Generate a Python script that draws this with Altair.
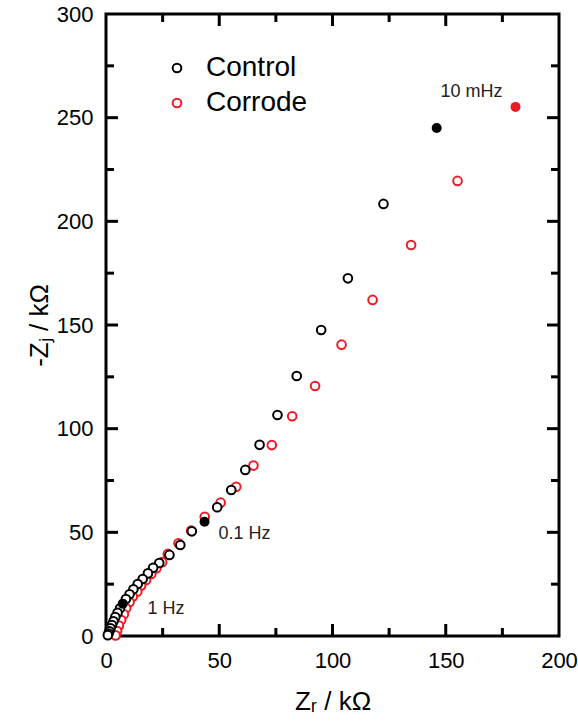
import altair as alt
import pandas as pd

# ---- data ----
ctrl_x = [122.5, 106.8, 95.0, 84.2, 75.7, 67.8, 61.5, 55.3, 49.1, 37.9, 32.8, 28.0,
          23.5, 20.8, 18.5, 16.2, 14.0, 12.1, 10.4, 8.8, 6.2, 5.1, 4.1, 3.3, 2.6, 2.0, 1.5, 1.1, 0.8]
ctrl_y = [208.4, 172.5, 147.6, 125.4, 106.6, 92.2, 80.1, 70.4, 62.1, 50.5, 43.9, 39.1,
          35.2, 32.9, 30.2, 27.5, 25.1, 22.5, 20.1, 17.8, 13.4, 11.2, 9.1, 7.1, 5.3, 3.7, 2.3, 1.2, 0.4]

corr_x = [155.2, 134.7, 117.7, 104.0, 92.3, 82.2, 73.2, 65.1, 57.5, 50.6, 43.6, 37.6, 32.0, 27.3,
          24.8, 22.3, 20.0, 17.7, 15.5, 13.8, 11.8, 10.4, 8.9, 7.9, 6.7, 5.7, 4.9, 4.2]
corr_y = [219.5, 188.6, 162.1, 140.5, 120.6, 106.0, 92.1, 82.2, 72.0, 64.3, 57.5, 50.8, 44.7, 39.6,
          35.6, 32.7, 29.9, 27.0, 24.3, 21.4, 19.0, 16.3, 13.4, 10.5, 7.7, 5.0, 2.4, 0.3]

# frequency markers (filled): 10 mHz, 0.1 Hz, 1 Hz
ctrl_mark_x = [146.0, 43.5, 7.4]
ctrl_mark_y = [245.0, 55.1, 15.6]
corr_mark_x = [180.8]
corr_mark_y = [255.2]

ann_text = ["10 mHz", "0.1 Hz", "1 Hz"]
ann_x = [147.7, 49.7, 18.3]
ann_y = [262.4, 49.2, 13.0]

series_names = ["Control", "Corrode"]
x_labels = [0, 50, 100, 150, 200]
y_labels = [0, 50, 100, 150, 200, 250, 300]
x_major = [50, 100, 150]
x_minor = [25, 75, 125, 175]
y_major = [50, 100, 150, 200, 250]
y_minor = [25, 75, 125, 175, 225, 275]

RED = "#ed1c24"
FONT = "Liberation Sans"
W, H = 453, 622
MAJ, MIN = 12, 8

open_df = pd.DataFrame({
    "x": corr_x + ctrl_x,
    "y": corr_y + ctrl_y,
    "series": ["Corrode"] * len(corr_x) + ["Control"] * len(ctrl_x),
})
ctrl_mark_df = pd.DataFrame({"x": ctrl_mark_x, "y": ctrl_mark_y})
corr_mark_df = pd.DataFrame({"x": corr_mark_x, "y": corr_mark_y})
ann_df = pd.DataFrame({"x": ann_x, "y": ann_y, "t": ann_text})

xs = alt.Scale(domain=[0, 200], nice=False, zero=False)
ys = alt.Scale(domain=[0, 300], nice=False, zero=False)
cscale = alt.Scale(domain=series_names, range=["black", RED])

x_axis = alt.Axis(values=x_labels, title="Zᵣ / kΩ", ticks=False, tickSize=0, domain=False,
                  grid=False, labelFontSize=22, labelPadding=14, labelFlush=False,
                  labelFont=FONT, labelColor="black", titleFont=FONT, titleFontSize=26,
                  titleFontWeight="normal", titleColor="black", titlePadding=17)
y_axis = alt.Axis(values=y_labels, title="-Zⱼ / kΩ", ticks=False, tickSize=0, domain=False,
                  grid=False, labelFontSize=22, labelPadding=13, labelFlush=False,
                  labelFont=FONT, labelColor="black", titleFont=FONT, titleFontSize=26,
                  titleFontWeight="normal", titleColor="black", titlePadding=4)

legend = alt.Legend(title=None, orient="none", legendX=57, legendY=40, labelFontSize=28,
                    labelFont=FONT, labelColor="black", symbolType="circle", symbolSize=75,
                    symbolStrokeWidth=2, symbolFillColor="white", labelOffset=15,
                    rowPadding=7, padding=0)

open_pts = alt.Chart(open_df).mark_point(
    shape="circle", size=75, strokeWidth=2, fill="white", fillOpacity=1, opacity=1
).encode(
    x=alt.X("x:Q", scale=xs, axis=x_axis),
    y=alt.Y("y:Q", scale=ys, axis=y_axis),
    stroke=alt.Stroke("series:N", scale=cscale, legend=legend),
)

ctrl_filled = alt.Chart(ctrl_mark_df).mark_circle(size=100, opacity=1, color="black").encode(
    x=alt.X("x:Q", scale=xs, axis=x_axis),
    y=alt.Y("y:Q", scale=ys, axis=y_axis),
)
corr_filled = alt.Chart(corr_mark_df).mark_circle(size=100, opacity=1, color=RED).encode(
    x=alt.X("x:Q", scale=xs, axis=x_axis),
    y=alt.Y("y:Q", scale=ys, axis=y_axis),
)

ann = alt.Chart(ann_df).mark_text(align="left", baseline="middle", fontSize=18, font=FONT,
                                  color="#222222").encode(
    x=alt.X("x:Q", scale=xs, axis=x_axis),
    y=alt.Y("y:Q", scale=ys, axis=y_axis),
    text="t:N",
)


def xticks(vals, length, top):
    d = pd.DataFrame({"x": vals})
    y0, y1 = (0, length) if top else (H, H - length)
    return alt.Chart(d).mark_rule(color="black", strokeWidth=3).encode(
        x=alt.X("x:Q", scale=xs, axis=x_axis), y=alt.value(y0), y2=alt.value(y1))


def yticks(vals, length, right):
    d = pd.DataFrame({"y": vals})
    x0, x1 = (W, W - length) if right else (0, length)
    return alt.Chart(d).mark_rule(color="black", strokeWidth=3).encode(
        y=alt.Y("y:Q", scale=ys, axis=y_axis), x=alt.value(x0), x2=alt.value(x1))


ticks = [
    xticks(x_major, MAJ, False), xticks(x_minor, MIN, False),
    xticks(x_major, MAJ, True), xticks(x_minor, MIN, True),
    yticks(y_major, MAJ, False), yticks(y_minor, MIN, False),
    yticks(y_major, MAJ, True), yticks(y_minor, MIN, True),
]

chart = alt.layer(open_pts, *ticks, ctrl_filled, corr_filled, ann).properties(
    width=W, height=H,
    autosize=alt.AutoSizeParams(type="none"),
    padding={"left": 106, "top": 14, "right": 19, "bottom": 89},
    background="white",
).configure_view(stroke="black", strokeWidth=3)

chart.save("out.html", embed_options={"renderer": "svg", "actions": False})
